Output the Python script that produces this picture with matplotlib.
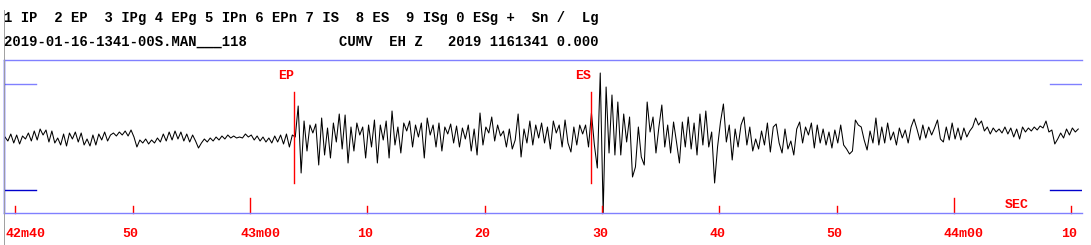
import matplotlib
matplotlib.use("Agg")
import matplotlib.pyplot as plt
from matplotlib.lines import Line2D
import numpy as np

# header text (SEISAN-style pick menu and trace info)
header1 = "1 IP  2 EP  3 IPg 4 EPg 5 IPn 6 EPn 7 IS  8 ES  9 ISg 0 ESg +  Sn /  Lg"
header2 = "2019-01-16-1341-00S.MAN___118           CUMV  EH Z   2019 1161341 0.000"

# trace: seconds after 13:42:40, one sample every 0.25 s
t0 = -0.9
dt = 0.25
trace = [
    # pre-event noise
    0, -4, 3, -6, 2, -7, 1, -2, 4, -4, 6, -3, 8, 2, 7, -5, 6, -6, -1, -8,
    3, -9, 4, -2, 5, -5, 4, -8, -2, -9, 2, -8, 3, -3, 5, -4,
    2, 4, 1, 5, 2, 6, 1, 7, 0, -10, -3, -6, -2, -7, -3, -6, -1, -5, 3, -4,
    5, -3, 6, -2, 5, -4, 3, -5, 2, -4, -11,
    -6, -2, -5, -1, -4, 0, -3, 1, -2, 2, -1, 1, -1, 0, -1, 3, 0, 2, -3, 1,
    -4, 0, -5, -1, -6, 1, -5, 2, -7, 3, -10, 2,
    # P arrival
    0, 31, -36, 16, -14, 12, 4, 13, -28, 19, -18, 9, -21, 14, -5, 23, -12, 22, -26, 10,
    -14, 14, 2, 10, -21, 12, -10, 17, -26, 12, -3, 16, -21, 26, -8, 10, -16, 14, 6, 16,
    -10, 12, 0, 14, -21, 19, 2, 12, -10, 14, -14, 10, 3, 13, -6, 11, -10, 9, -2, 12,
    -14, 8, -18, 24, -8, 10, 4, 20, -4, 12, 1, 6, -10, 8, -12, -3, 23, -20, 8, -6,
    16, -8, 12, -1, 14, -6, 10, -12, 16, 4, 12, -10, 17, -6, -15, 10, -8, 12, 3, 12,
    -10,
    # S arrival
    24, -8, -31, 64, -76, 50, -16, 42, -18, 35, -18, 23, -5, 20, -40, -30, 10, -20, -28, 35,
    5, 20, -16, 10, 32, -10, 12, -16, 15, -5, -26, 15, -10, 20, -12, 14, -18, 23, -8, 26,
    -10, 5, -46, -10, 15, 33, -5, 12, -23, 8, -10,
    # coda
    12, 20, -8, 10, -14, -2, -12, 6, -8, 14, -15, 10, 13, -6, -16, 8, -12, -4, -18, 8,
    15, -6, 10, 2, 14, -11, 12, -6, 8, -8, 5, -11, 7, -6, 12, -8, -12, -17, -14, 17,
    12, 10, -3, -13, 6, -6, 19, -8, 10, -6,
    14, -3, 5, -8, 9, -1, 7, -6, 10, 18, 8, -3, 12, -1, 10, 2, 9, 17, -2, -5,
    10, -3, 14, -2, 9, -3, 9, 0, 6, 10, 19, 12, 16, 6, 10, 3, 9, 5, 8, 4,
    10, 3, 9, 0, 8, -2, 10, 5, 9, 6, 10, 7, 11, 9, 16, 5, 7, -7, -2, 4,
    -1, 8, 2, 9, 5, 8,
]

# time axis marks (seconds after 42m40)
tick_times = [0, 10, 20, 30, 40, 50, 60, 70, 80, 90]
tick_labels = ["42m40", "50", "43m00", "10", "20", "30", "40", "50", "44m00", "10"]
minute_marks = [20, 80]

# phase picks
pick_names = ["EP", "ES"]
pick_times = [23.74, 49.1]

W, H = 1091, 245
px_per_sec = 11.73
red = "#ff0000"
mono = dict(family="Liberation Mono", weight="bold")

fig = plt.figure(figsize=(W / 100, H / 100), dpi=100)
ax = fig.add_axes([4 / W, (H - 213) / H, 1078 / W, 153 / H])

times = t0 + dt * np.arange(len(trace))
ax.plot(times, trace, color="black", lw=0.75)
ax.set_xlim(-0.98, 90.92)
ax.set_ylim(-76, 77)
ax.set_xticks([])
ax.set_yticks([])

ax.spines["right"].set_visible(False)
ax.spines["left"].set_color("#0000ff")
ax.spines["top"].set_color("#8080ff")
ax.spines["bottom"].set_color("#8080ff")
for s in ax.spines.values():
    s.set_linewidth(1.0)

# amplitude scale marks at both ends
edge = 32 / 1078
ax.axhline(53, 0, edge, color="#8080ff", lw=1.0)
ax.axhline(-53, 0, edge, color="#0000cc", lw=1.0)
ax.axhline(53, 1 - edge, 1, color="#8080ff", lw=1.0)
ax.axhline(-53, 1 - edge, 1, color="#0000cc", lw=1.0)

# red time ticks and labels
for tt, lab in zip(tick_times, tick_labels):
    top = -61 if tt in minute_marks else -69
    ax.plot([tt, tt], [-76, top], color=red, lw=1.0, clip_on=False)
    ax.text(tt - 10 / px_per_sec, -97, lab, ha="left", va="center",
            color=red, fontsize=9.5, clip_on=False, **mono)
ax.text((1005 - 15.5) / px_per_sec, -68, "SEC", ha="left", va="center",
        color=red, fontsize=9.5, **mono)

# picks
for name, pt in zip(pick_names, pick_times):
    ax.plot([pt, pt], [-46, 45], color=red, lw=1.0)
    ax.text(pt, 61, name, ha="right", va="center", color=red, fontsize=9.5, **mono)

# header
fig.text(4 / W, 1 - 18 / H, header1, ha="left", va="center", fontsize=10, **mono)
fig.text(4 / W, 1 - 42 / H, header2, ha="left", va="center", fontsize=10, **mono)

fig.add_artist(Line2D([3.5 / W, 3.5 / W], [0, 1 - 10 / H], color="#a0a0a0", lw=0.7))

fig.savefig("out.png", dpi=100)
